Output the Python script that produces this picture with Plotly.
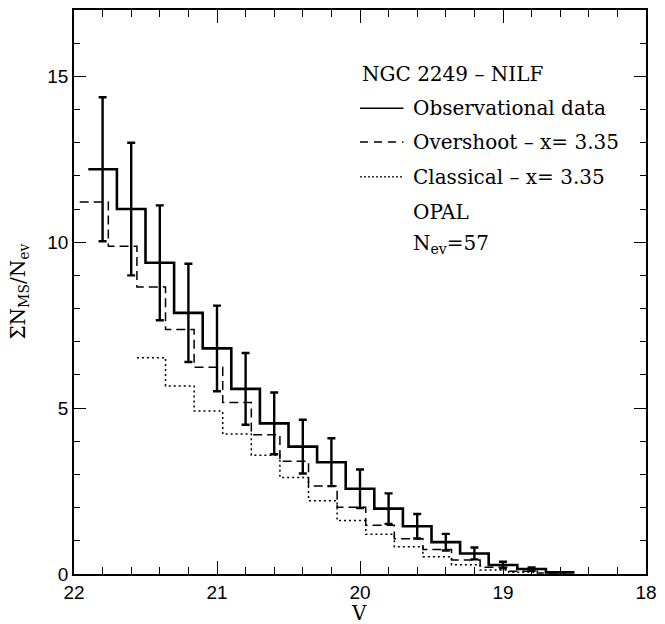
import plotly.graph_objects as go

# Observational data (solid histogram, bin centres, width 0.2 mag)
obs_v = [21.8, 21.6, 21.4, 21.2, 21.0, 20.8, 20.6, 20.4, 20.2, 20.0, 19.8, 19.6, 19.4, 19.2, 19.0, 18.8, 18.6]
obs_n = [12.2, 11.0, 9.38, 7.87, 6.8, 5.58, 4.54, 3.84, 3.37, 2.57, 1.97, 1.44, 0.96, 0.62, 0.27, 0.15, 0.05]
obs_err = [2.17, 2.0, 1.73, 1.48, 1.29, 1.08, 0.93, 0.81, 0.72, 0.58, 0.46, 0.37, 0.25, 0.18, 0.1, 0.05, 0.0]

# Overshoot model (dashed)
ov_v = [21.86, 21.66, 21.46, 21.26, 21.06, 20.86, 20.66, 20.46, 20.26, 20.06, 19.86, 19.66, 19.46, 19.26, 19.06, 18.86, 18.66]
ov_n = [11.21, 9.88, 8.65, 7.37, 6.23, 5.17, 4.20, 3.40, 2.65, 2.01, 1.47, 1.06, 0.74, 0.42, 0.20, 0.08, 0.03]

# Classical model (dotted)
cl_v = [21.46, 21.26, 21.06, 20.86, 20.66, 20.46, 20.26, 20.06, 19.86, 19.66, 19.46, 19.26, 19.06, 18.86]
cl_n = [6.52, 5.67, 4.91, 4.22, 3.58, 2.91, 2.21, 1.61, 1.20, 0.82, 0.52, 0.28, 0.12, 0.05]

x_ticks = [22, 21, 20, 19, 18]
y_ticks = [0, 5, 10, 15]

BIN = 0.2

def steps(centres, vals):
    xs = [c + BIN / 2 for c in centres] + [centres[-1] - BIN / 2]
    ys = list(vals) + [vals[-1]]
    return xs, ys

fig = go.Figure()

x, y = steps(obs_v, obs_n)
fig.add_trace(go.Scatter(x=x, y=y, mode="lines", line=dict(shape="hv", color="black", width=2.6),
                         hoverinfo="skip", showlegend=False))
x, y = steps(ov_v, ov_n)
fig.add_trace(go.Scatter(x=x, y=y, mode="lines", line=dict(shape="hv", color="black", width=1.5, dash="9px,5px"),
                         hoverinfo="skip", showlegend=False))
x, y = steps(cl_v, cl_n)
fig.add_trace(go.Scatter(x=x, y=y, mode="lines", line=dict(shape="hv", color="black", width=1.5, dash="2px,3px"),
                         hoverinfo="skip", showlegend=False))

# error bars on observational data
n_err = 16
fig.add_trace(go.Scatter(x=obs_v[:n_err], y=obs_n[:n_err], mode="markers", marker=dict(size=1, color="rgba(0,0,0,0)"),
                         error_y=dict(type="data", array=obs_err[:n_err], visible=True, color="black",
                                      thickness=2.4, width=4),
                         hoverinfo="skip", showlegend=False))

serif = "DejaVu Serif"
sans = "Liberation Sans"

annotations = []
def ann(text, x, y, size=20, **kw):
    annotations.append(dict(text=text, x=x, y=y, xref="paper", yref="paper", showarrow=False,
                            font=dict(family=serif, size=size, color="black"), **kw))

ann("NGC 2249 – NILF", 0.500, 0.887, xanchor="left", yanchor="middle")
ann("Observational data", 0.590, 0.826, xanchor="left", yanchor="middle")
ann("Overshoot – x= 3.35", 0.590, 0.766, xanchor="left", yanchor="middle")
ann("Classical – x= 3.35", 0.590, 0.704, xanchor="left", yanchor="middle")
ann("OPAL", 0.590, 0.641, xanchor="left", yanchor="middle")
ann("N<sub>ev</sub>=57", 0.590, 0.585, xanchor="left", yanchor="middle")
ann("V", 0.498, -0.070, size=20, xanchor="center", yanchor="middle")
ann("ΣN<sub>MS</sub>/N<sub>ev</sub>", -0.097, 0.50, size=20, xanchor="center", yanchor="middle", textangle=-90)

shapes = [
    dict(type="line", xref="paper", yref="paper", x0=0.500, x1=0.576, y0=0.826, y1=0.826,
         line=dict(color="black", width=1.5)),
    dict(type="line", xref="paper", yref="paper", x0=0.500, x1=0.576, y0=0.766, y1=0.766,
         line=dict(color="black", width=1.3, dash="8px,6px")),
    dict(type="line", xref="paper", yref="paper", x0=0.500, x1=0.576, y0=0.704, y1=0.704,
         line=dict(color="black", width=1.2, dash="2px,2px")),
]

fig.update_layout(
    width=665, height=624,
    margin=dict(l=74, r=13, t=8, b=50),
    paper_bgcolor="white", plot_bgcolor="white",
    annotations=annotations, shapes=shapes,
    xaxis=dict(range=[22, 18], tickmode="array", tickvals=x_ticks,
               ticktext=[str(t) for t in x_ticks],
               ticks="inside", ticklen=13, tickwidth=1.3, tickcolor="black",
               minor=dict(dtick=0.2, ticks="inside", ticklen=7, tickwidth=1.1, tickcolor="black", showgrid=False),
               showline=True, linecolor="black", linewidth=1.5, mirror="allticks",
               showgrid=False, zeroline=False, ticklabeloverflow="allow",
               tickfont=dict(family=sans, size=19, color="black")),
    yaxis=dict(range=[0, 17], tickmode="array", tickvals=y_ticks,
               ticktext=[str(t) for t in y_ticks],
               ticks="inside", ticklen=12, tickwidth=1.3, tickcolor="black",
               minor=dict(dtick=1, ticks="inside", ticklen=6, tickwidth=1.1, tickcolor="black", showgrid=False),
               showline=True, linecolor="black", linewidth=1.5, mirror="allticks",
               showgrid=False, zeroline=False,
               tickfont=dict(family=sans, size=19, color="black")),
)

fig.write_html("out.html", config={"displayModeBar": False},
               post_script="document.body.style.margin='0';document.body.style.overflow='hidden';")
